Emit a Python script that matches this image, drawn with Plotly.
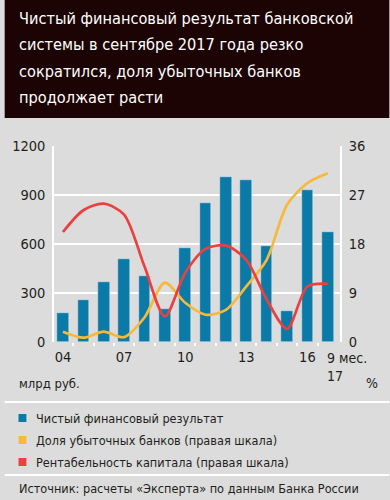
import plotly.graph_objects as go

years = ["04", "05", "06", "07", "08", "09", "10", "11", "12", "13", "14", "15", "16", "9 мес. 17"]
net_result = [176, 258, 370, 507, 406, 205, 573, 849, 1012, 993, 589, 192, 930, 673]
loss_share = [1.9, 0.8, 1.9, 0.9, 4.5, 10.9, 7.2, 5.0, 5.9, 10.2, 15.1, 25.2, 29.2, 31.0]
roe = [20.2, 24.2, 25.4, 23.4, 13.9, 4.7, 12.7, 17.1, 17.7, 15.1, 7.8, 2.4, 10.2, 10.7]
tick_pos = [0, 3, 6, 9, 12]
tick_text = ["04", "07", "10", "13", "16"]

title_lines = ["Чистый финансовый результат банковской",
               "системы в сентябре 2017 года резко",
               "сократился, доля убыточных банков",
               "продолжает расти"]
legend_items = [("Чистый финансовый результат", "#0b7aa6"),
                ("Доля убыточных банков (правая шкала)", "#f6b93a"),
                ("Рентабельность капитала (правая шкала)", "#ec4040")]
source = "Источник: расчеты «Эксперта» по данным Банка России"

FONT = "DejaVu Sans Condensed"
TXT = "#231f20"
BG = "#dcdcdc"

W, H = 390, 500
L, R, T, B = 50, 340, 146, 342


def px(x):
    return (x - L) / (R - L)


def py(y):
    return (B - y) / (B - T)


x = list(range(len(years)))

fig = go.Figure()
fig.add_bar(x=x, y=net_result, marker_color="#0b7aa6", width=0.57, yaxis="y")
fig.add_scatter(x=x, y=loss_share, mode="lines", line=dict(color="#f6b93a", width=2.7, shape="spline", smoothing=0.8), yaxis="y2")
fig.add_scatter(x=x, y=roe, mode="lines", line=dict(color="#ec4040", width=2.7, shape="spline", smoothing=0.8), yaxis="y2")

shapes = [
    dict(type="rect", xref="paper", yref="paper", x0=px(0), x1=px(W), y0=py(0), y1=py(118),
         fillcolor="#1c0404", line_width=0, layer="below"),
    dict(type="line", xref="paper", yref="paper", x0=px(0), x1=px(W), y0=py(402), y1=py(402),
         line=dict(color="white", width=2)),
    dict(type="line", xref="paper", yref="paper", x0=px(0), x1=px(W), y0=py(475), y1=py(475),
         line=dict(color="white", width=2)),
]
annotations = []
for i, line in enumerate(title_lines):
    annotations.append(dict(text=line, xref="paper", yref="paper", x=px(12), y=py(19 + 26 * i),
                            xanchor="left", yanchor="middle", showarrow=False,
                            font=dict(family=FONT, size=16.2, color="white")))
for i, (name, col) in enumerate(legend_items):
    yc = 418 + 22 * i
    shapes.append(dict(type="rect", xref="paper", yref="paper", x0=px(14), x1=px(22),
                       y0=py(yc - 4), y1=py(yc + 4), fillcolor=col, line_width=0))
    annotations.append(dict(text=name, xref="paper", yref="paper", x=px(30), y=py(yc),
                            xanchor="left", yanchor="middle", showarrow=False,
                            font=dict(family=FONT, size=12.6, color=TXT)))
annotations.append(dict(text=source, xref="paper", yref="paper", x=px(12), y=py(488),
                        xanchor="left", yanchor="middle", showarrow=False,
                        font=dict(family=FONT, size=12.6, color=TXT)))
annotations.append(dict(text="млрд руб.", xref="paper", yref="paper", x=px(12), y=py(383),
                        xanchor="left", yanchor="middle", showarrow=False,
                        font=dict(family=FONT, size=13, color=TXT)))
annotations.append(dict(text="%", xref="paper", yref="paper", x=px(372), y=py(383),
                        xanchor="center", yanchor="middle", showarrow=False,
                        font=dict(family=FONT, size=14, color=TXT)))
annotations.append(dict(text="9 мес.<br>17", xref="x", yref="paper", x=12.88, y=py(348),
                        xanchor="left", yanchor="top", align="left", showarrow=False,
                        font=dict(family=FONT, size=14, color=TXT)))

fig.update_layout(
    width=W, height=H,
    margin=dict(l=L, r=W - R, t=T, b=H - B, pad=0),
    paper_bgcolor=BG, plot_bgcolor=BG,
    showlegend=False, bargap=0,
    shapes=shapes, annotations=annotations,
    xaxis=dict(range=[-0.44, 13.6], tickvals=tick_pos, ticktext=tick_text, ticks="",
               showgrid=False, zeroline=False, showline=False,
               tickfont=dict(family=FONT, size=14.5, color=TXT), ticklabelstandoff=4,
               minor=dict(tickmode="array", tickvals=[i + 0.5 for i in range(-1, 13)],
                          ticks="outside", ticklen=3, tickcolor="white", tickwidth=1.5)),
    yaxis=dict(range=[0, 1200], tickvals=[0, 300, 600, 900, 1200], showgrid=True,
               gridcolor="white", gridwidth=1.5, zeroline=False, showline=True,
               linecolor="white", linewidth=1.5,
               tickfont=dict(family=FONT, size=14.5, color=TXT), ticks="", ticklabelstandoff=4),
    yaxis2=dict(range=[0, 36], tickvals=[0, 9, 18, 27, 36], overlaying="y", side="right",
                showgrid=False, zeroline=False, showline=True, linecolor="white", linewidth=1.5,
                tickfont=dict(family=FONT, size=14.5, color=TXT), ticks="", ticklabelstandoff=4),
)

fig.write_html("out.html", post_script="document.body.style.margin='0';",
               config={"displayModeBar": False})
